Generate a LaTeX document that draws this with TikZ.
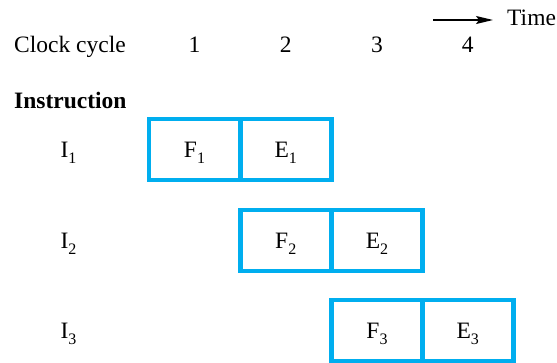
\documentclass[tikz,border=0pt]{standalone}
\usepackage{fontspec}
\setmainfont{Liberation Serif}
\usetikzlibrary{arrows.meta}
\definecolor{cellblue}{HTML}{00AEEF}
\newcommand\subs[1]{\raisebox{-6pt}{\fontsize{16}{16}\selectfont #1}}
\tikzset{
  txt/.style={inner sep=0pt, font=\fontsize{23.5}{28}\selectfont},
  cell/.style={draw=cellblue, line width=4.5pt, minimum width=91pt, minimum height=61pt,
    inner sep=0pt, text height=15.6pt, text depth=0pt, font=\fontsize{23.5}{28}\selectfont},
  timearrow/.style={-{Stealth[length=17pt,width=8pt,inset=3pt]}, line width=1.4pt}
}
\begin{document}
\begin{tikzpicture}[x=1pt,y=-1pt]
\useasboundingbox (0,0) rectangle (557,362);
% header
\node[txt, anchor=base west] (clock) at (14,52) {Clock cycle};
\node[txt, anchor=base] (c1) at (194.5,52) {1};
\node[txt, anchor=base] (c2) at (285.75,52) {2};
\node[txt, anchor=base] (c3) at (377,52) {3};
\node[txt, anchor=base] (c4) at (467.75,52) {4};
\node[txt, anchor=base west] (time) at (507,25) {Time};
\coordinate (as) at (433,20);
\draw[timearrow, shorten >=14pt] (as) -- (time.west |- as);
\node[txt, anchor=base west, font=\fontsize{23.5}{28}\selectfont\bfseries] (instr) at (14,108) {Instruction};
% row labels
\node[txt, anchor=base] (i1) at (68.5,157.5) {I\subs{1}};
\node[txt, anchor=base] (i2) at (68.5,248.5) {I\subs{2}};
\node[txt, anchor=base] (i3) at (68.5,338.5) {I\subs{3}};
% cells
\node[cell] (f1) at (194.5,149.5) {F\subs{1}};
\node[cell] (e1) at (285.75,149.5) {E\subs{1}};
\node[cell] (f2) at (285.75,240.5) {F\subs{2}};
\node[cell] (e2) at (377,240.5) {E\subs{2}};
\node[cell] (f3) at (377,330.5) {F\subs{3}};
\node[cell] (e3) at (467.75,330.5) {E\subs{3}};
\end{tikzpicture}
\end{document}
